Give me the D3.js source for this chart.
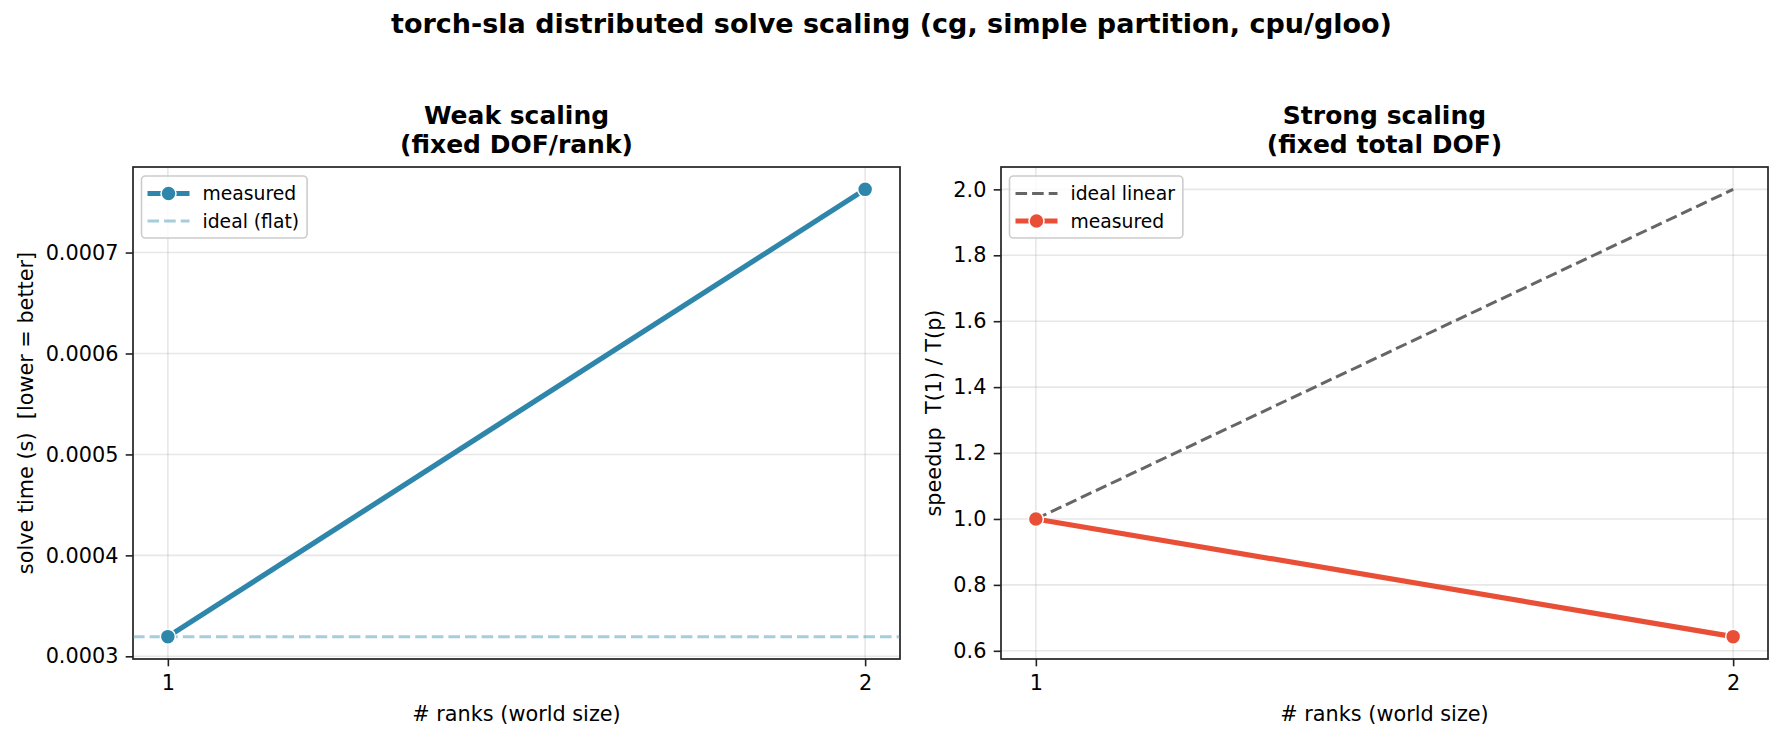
<!DOCTYPE html>
<html>
<head>
<meta charset="utf-8">
<script src="https://cdn.jsdelivr.net/npm/d3@7"></script>
<style>
  html, body { margin: 0; padding: 0; background: #fff; }
  text { font-family: "DejaVu Sans", sans-serif; fill: #000; }
</style>
</head>
<body>
<div id="main"></div>
<script>
const ctx = { w: 1783, h: 742 };

// data
const ranks = [1, 2];
const weakTime = [0.0003195, 0.0007626];     // solve time (s), fixed DOF/rank
const strongIdeal = [1.0, 2.0];              // ideal linear speedup
const strongSpeedup = [1.0, 0.643];          // measured T(1)/T(p)

const xTicks = [1, 2];
const weakTicks = [0.0003, 0.0004, 0.0005, 0.0006, 0.0007];
const strongTicks = [0.6, 0.8, 1.0, 1.2, 1.4, 1.6, 1.8, 2.0];

const BLUE = "#2E86AB";
const RED = "#E94F37";
const GRAY = "#666666";

const panels = [
    { left: 133, right: 900, top: 167, bottom: 659,
      title: ["Weak scaling", "(fixed DOF/rank)"],
      ylabel: "solve time (s)  [lower = better]", ylabelX: 33,
      yticks: weakTicks, yfmt: d3.format(".4f") },
    { left: 1001, right: 1768, top: 167, bottom: 659,
      title: ["Strong scaling", "(fixed total DOF)"],
      ylabel: "speedup  T(1) / T(p)", ylabelX: 941,
      yticks: strongTicks, yfmt: d3.format(".1f") }
];

// matplotlib-style 5% margins
function padded(vals) {
    const [a, b] = d3.extent(vals);
    const m = (b - a) * 0.05;
    return [a - m, b + m];
}

const svg = d3.select("#main").append("svg")
    .attr("width", ctx.w)
    .attr("height", ctx.h);

svg.append("text")
    .attr("x", ctx.w / 2)
    .attr("y", 33)
    .attr("text-anchor", "middle")
    .style("font-size", "27px")
    .style("font-weight", "bold")
    .text("torch-sla distributed solve scaling (cg, simple partition, cpu/gloo)");

function drawPanel(p, yDomainVals) {
    const x = d3.scaleLinear().domain(padded(ranks)).range([p.left, p.right]);
    const y = d3.scaleLinear().domain(padded(yDomainVals)).range([p.bottom, p.top]);
    const g = svg.append("g");

    // grid
    g.append("g").selectAll("line").data(p.yticks).enter().append("line")
        .attr("x1", p.left).attr("x2", p.right)
        .attr("y1", d => y(d)).attr("y2", d => y(d))
        .attr("stroke", "#b0b0b0").attr("stroke-opacity", 0.3).attr("stroke-width", 1.6);
    g.append("g").selectAll("line").data(xTicks).enter().append("line")
        .attr("y1", p.top).attr("y2", p.bottom)
        .attr("x1", d => x(d)).attr("x2", d => x(d))
        .attr("stroke", "#b0b0b0").attr("stroke-opacity", 0.3).attr("stroke-width", 1.6);

    // axes
    const xAxis = g.append("g")
        .attr("transform", `translate(0,${p.bottom})`)
        .call(d3.axisBottom(x).tickValues(xTicks).tickFormat(d3.format("d"))
            .tickSize(7.3).tickPadding(7.3).tickSizeOuter(0));
    const yAxis = g.append("g")
        .attr("transform", `translate(${p.left},0)`)
        .call(d3.axisLeft(y).tickValues(p.yticks).tickFormat(p.yfmt)
            .tickSize(7.3).tickPadding(7.3).tickSizeOuter(0));
    [xAxis, yAxis].forEach(a => {
        a.select(".domain").remove();
        a.selectAll(".tick line").attr("stroke", "#222").attr("stroke-width", 1.6);
        a.selectAll(".tick text").style("font-size", "20.8px")
            .style("font-family", "DejaVu Sans").attr("fill", "#000");
    });
    xAxis.selectAll(".tick text").attr("dy", "0.71em").attr("y", 14.6 + 2);

    // frame
    g.append("rect")
        .attr("x", p.left).attr("y", p.top)
        .attr("width", p.right - p.left).attr("height", p.bottom - p.top)
        .attr("fill", "none").attr("stroke", "#222").attr("stroke-width", 1.7);

    // titles and labels
    const t = g.append("text")
        .attr("x", (p.left + p.right) / 2)
        .attr("text-anchor", "middle")
        .style("font-size", "25px").style("font-weight", "bold");
    t.append("tspan").attr("x", (p.left + p.right) / 2).attr("y", 124).text(p.title[0]);
    t.append("tspan").attr("x", (p.left + p.right) / 2).attr("y", 153).text(p.title[1]);

    g.append("text")
        .attr("x", (p.left + p.right) / 2).attr("y", 721)
        .attr("text-anchor", "middle")
        .style("font-size", "20.8px")
        .text("# ranks (world size)");

    g.append("text")
        .attr("transform", `translate(${p.ylabelX},${(p.top + p.bottom) / 2}) rotate(-90)`)
        .attr("text-anchor", "middle")
        .style("font-size", "20.8px")
        .style("white-space", "pre")
        .text(p.ylabel);

    return { x, y, g };
}

function drawLegend(g, p, items) {
    const lx = p.left + 8.5, ly = p.top + 9;
    const lg = g.append("g");
    const box = lg.append("rect")
        .attr("x", lx).attr("y", ly).attr("rx", 4).attr("ry", 4)
        .attr("height", 62)
        .attr("fill", "#fff").attr("fill-opacity", 0.8)
        .attr("stroke", "#cccccc").attr("stroke-width", 1.6);
    let maxW = 0;
    items.forEach((it, i) => {
        const cy = ly + 17.5 + i * 27.5;
        const line = lg.append("line")
            .attr("x1", lx + 6).attr("x2", lx + 48)
            .attr("y1", cy).attr("y2", cy)
            .attr("stroke", it.color).attr("stroke-width", it.width)
            .attr("stroke-opacity", it.opacity || 1);
        if (it.dash) line.attr("stroke-dasharray", it.dash);
        if (it.marker) {
            lg.append("circle").attr("cx", lx + 27).attr("cy", cy).attr("r", 7.5)
                .attr("fill", it.color).attr("stroke", "#fff").attr("stroke-width", 1.5);
        }
        const tx = lg.append("text")
            .attr("x", lx + 61).attr("y", cy + 6.5)
            .style("font-size", "18.75px")
            .text(it.label);
        maxW = Math.max(maxW, tx.node().getComputedTextLength());
    });
    box.attr("width", 61 + maxW + 8);
}

// ---- weak scaling ----
const pw = drawPanel(panels[0], weakTime);
pw.g.append("line")
    .attr("x1", panels[0].left).attr("x2", panels[0].right)
    .attr("y1", pw.y(weakTime[0])).attr("y2", pw.y(weakTime[0]))
    .attr("stroke", BLUE).attr("stroke-opacity", 0.42)
    .attr("stroke-width", 3).attr("stroke-dasharray", "11.6,5");
const weakPts = ranks.map((r, i) => [r, weakTime[i]]);
pw.g.append("path")
    .datum(weakPts)
    .attr("d", d3.line().x(d => pw.x(d[0])).y(d => pw.y(d[1])))
    .attr("fill", "none").attr("stroke", BLUE).attr("stroke-width", 5.2);
pw.g.selectAll(".wpt").data(weakPts).enter().append("circle")
    .attr("cx", d => pw.x(d[0])).attr("cy", d => pw.y(d[1])).attr("r", 7.5)
    .attr("fill", BLUE).attr("stroke", "#fff").attr("stroke-width", 1.5);
drawLegend(pw.g, panels[0], [
    { label: "measured", color: BLUE, width: 5.2, marker: true },
    { label: "ideal (flat)", color: BLUE, width: 3, dash: "11.6,5", opacity: 0.42 }
]);

// ---- strong scaling ----
const ps = drawPanel(panels[1], strongIdeal.concat(strongSpeedup));
const idealPts = ranks.map((r, i) => [r, strongIdeal[i]]);
const measPts = ranks.map((r, i) => [r, strongSpeedup[i]]);
ps.g.append("path")
    .datum(idealPts)
    .attr("d", d3.line().x(d => ps.x(d[0])).y(d => ps.y(d[1])))
    .attr("fill", "none").attr("stroke", GRAY).attr("stroke-width", 3)
    .attr("stroke-dasharray", "11.6,5");
ps.g.append("path")
    .datum(measPts)
    .attr("d", d3.line().x(d => ps.x(d[0])).y(d => ps.y(d[1])))
    .attr("fill", "none").attr("stroke", RED).attr("stroke-width", 5.2);
ps.g.selectAll(".spt").data(measPts).enter().append("circle")
    .attr("cx", d => ps.x(d[0])).attr("cy", d => ps.y(d[1])).attr("r", 7.5)
    .attr("fill", RED).attr("stroke", "#fff").attr("stroke-width", 1.5);
drawLegend(ps.g, panels[1], [
    { label: "ideal linear", color: GRAY, width: 3, dash: "11.6,5" },
    { label: "measured", color: RED, width: 5.2, marker: true }
]);
</script>
</body>
</html>
